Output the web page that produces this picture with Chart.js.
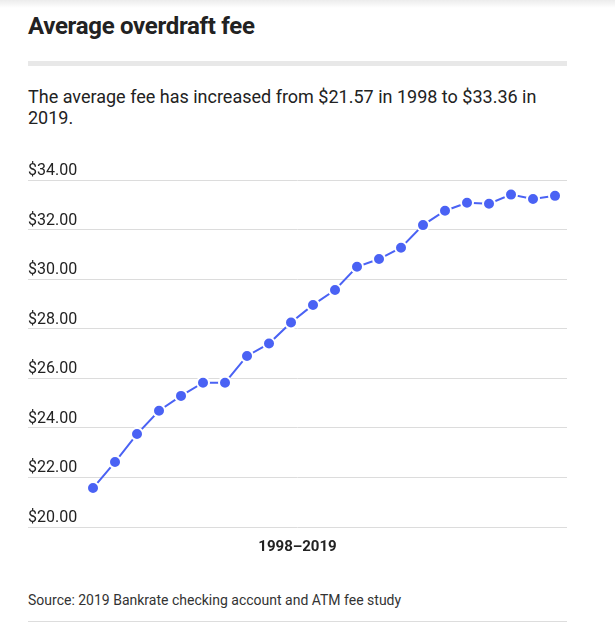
<!DOCTYPE html>
<html>
<head>
<meta charset="utf-8">
<script src="https://cdn.jsdelivr.net/npm/chart.js@4"></script>
<style>
  html, body { margin: 0; padding: 0; background: #fff; }
  body { width: 615px; height: 630px; position: relative; overflow: hidden; font-family: Roboto, "Noto Sans", sans-serif; color: #222; }
  .shade { position: absolute; left: 0; top: 0; width: 615px; height: 8px; background: linear-gradient(#ececec, rgba(255,255,255,0)); }
  .title { position: absolute; left: 28px; top: 12px; font-size: 24px; line-height: 28px; font-weight: 700; color: #222; letter-spacing: -0.3px; }
  .bar { position: absolute; left: 28px; top: 61px; width: 539px; height: 5px; background: #e8e8e8; }
  .sub { position: absolute; left: 28px; top: 86px; width: 539px; font-size: 18px; line-height: 21px; color: #222; }
  .wrap { position: absolute; left: 28px; top: 150px; width: 539px; height: 406px; }
  .source { position: absolute; left: 28px; top: 592px; font-size: 14px; color: #333; }
  .rule { position: absolute; left: 28px; top: 621px; width: 539px; height: 1px; background: #ddd; }
</style>
</head>
<body>
<div class="shade"></div>
<div class="title">Average overdraft fee</div>
<div class="bar"></div>
<div class="sub">The average fee has increased from $21.57 in 1998 to $33.36 in 2019.</div>
<div class="wrap"><canvas id="chart"></canvas></div>
<div class="source">Source: 2019 Bankrate checking account and ATM fee study</div>
<div class="rule"></div>
<script>
const years = [1998, 1999, 2000, 2001, 2002, 2003, 2004, 2005, 2006, 2007, 2008,
  2009, 2010, 2011, 2012, 2013, 2014, 2015, 2016, 2017, 2018, 2019];
const fees = [21.57, 22.62, 23.75, 24.69, 25.29, 25.82, 25.82, 26.90, 27.40, 28.25, 28.96,
  29.56, 30.50, 30.81, 31.27, 32.18, 32.76, 33.08, 33.04, 33.41, 33.23, 33.36];
const yTicks = [20, 22, 24, 26, 28, 30, 32, 34];
const xTitle = "1998–2019";

const blue = "#4a62f4";

new Chart(document.getElementById("chart"), {
  type: "line",
  data: {
    datasets: [{
      data: years.map((y, i) => ({ x: y, y: fees[i] })),
      borderColor: blue,
      borderWidth: 2,
      backgroundColor: blue,
      pointBackgroundColor: blue,
      pointBorderColor: "#fff",
      pointBorderWidth: 2,
      pointRadius: 6,
      tension: 0,
      fill: false
    }]
  },
  options: {
    responsive: true,
    maintainAspectRatio: false,
    animation: false,
    layout: { autoPadding: false, padding: { top: 30, left: 0, right: 0, bottom: 0 } },
    plugins: { legend: { display: false }, tooltip: { enabled: false } },
    scales: {
      x: {
        type: "linear",
        min: 1995.045,
        max: 2019.545,
        grid: { display: false },
        border: { display: false },
        ticks: { display: false },
        title: {
          display: true,
          text: xTitle,
          color: "#222",
          font: { family: "Roboto", size: 15, weight: "bold" },
          padding: { top: 3, bottom: 0 }
        }
      },
      y: {
        min: 20,
        max: 34,
        afterBuildTicks: axis => { axis.ticks = yTicks.map(v => ({ value: v })); },
        grid: { color: "#dcdcdc", lineWidth: 1, drawTicks: false },
        border: { display: false },
        ticks: {
          mirror: true,
          padding: 0,
          labelOffset: -9,
          color: "#222",
          font: { family: "Roboto", size: 16 },
          callback: v => "$" + v.toFixed(2)
        }
      }
    }
  }
});
</script>
</body>
</html>
